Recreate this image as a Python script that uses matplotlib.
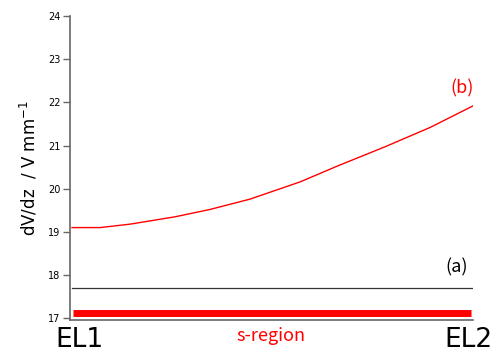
import matplotlib
matplotlib.use("Agg")
import matplotlib.pyplot as plt
import numpy as np

plt.rcParams['font.family'] = ['Noto Sans CJK JP', 'DejaVu Sans']

# data
pos_b = [0.0, 0.07, 0.145, 0.257, 0.344, 0.444, 0.569, 0.668, 0.78, 0.893, 1.0]
field_b = [19.10, 19.10, 19.18, 19.35, 19.52, 19.76, 20.16, 20.55, 20.97, 21.42, 21.92]
pos_a = [0.0, 1.0]
field_a = [17.70, 17.70]
sregion_x = [0.003, 0.995]
sregion_y = [17.13, 17.13]
yticks = [17, 18, 19, 20, 21, 22, 23, 24]

fig = plt.figure(figsize=(5.04, 3.54), dpi=100)
ax = fig.add_axes([0.139, 0.096, 0.80, 0.859])

ax.plot(pos_b, field_b, color='red', lw=1.0)
ax.plot(pos_a, field_a, color='#333333', lw=0.9)
ax.plot(sregion_x, sregion_y, color='red', lw=5, solid_capstyle='butt')

ax.set_xlim(-0.005, 1.0)
ax.set_ylim(16.96, 24)
ax.set_yticks(yticks)
ax.set_yticklabels([str(t) for t in yticks], fontsize=7, family='DejaVu Sans')
ax.set_xticks([])
for s in ['top', 'right']:
    ax.spines[s].set_visible(False)
for s in ['left', 'bottom']:
    ax.spines[s].set_color('#666666')
    ax.spines[s].set_linewidth(1.2)
ax.tick_params(axis='y', direction='out', length=5, width=1, color='#666666', pad=2)

ax.set_ylabel('dV/dz  / V mm$^{-1}$', fontsize=12, labelpad=6, family='DejaVu Sans')

fig.text(79/504, 1-347/354, 'EL1', fontsize=19, ha='center', va='baseline', family='DejaVu Sans')
fig.text(468/504, 1-347/354, 'EL2', fontsize=19, ha='center', va='baseline', family='DejaVu Sans')
fig.text(271/504, 1-336/354, 's-region', fontsize=13, color='red', ha='center', va='center')
fig.text(457/504, 1-267/354, '(a)', fontsize=13, ha='center', va='center')
fig.text(462/504, 1-88/354, '(b)', fontsize=13, color='red', ha='center', va='center')

fig.savefig('out.png', dpi=100)
